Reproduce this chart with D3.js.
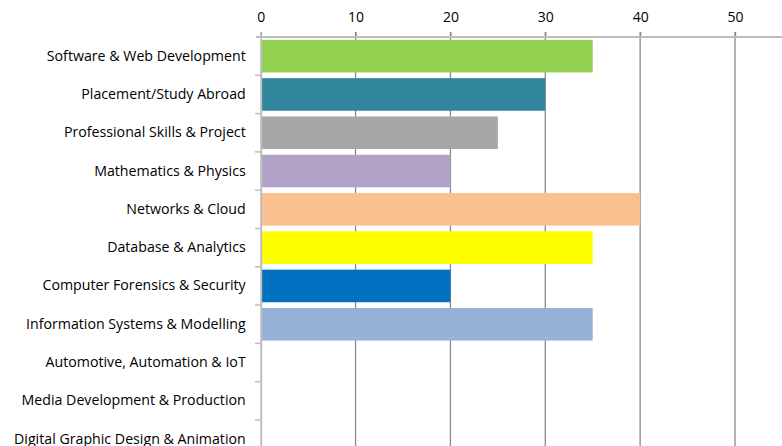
<!DOCTYPE html>
<html><head><meta charset="utf-8">
<script src="https://cdn.jsdelivr.net/npm/d3@7"></script>
<style>body{margin:0;background:#fff;overflow:hidden}</style>
</head><body>
<svg id="c" width="782" height="446"></svg>
<script>
const categories = ["Software & Web Development","Placement/Study Abroad","Professional Skills & Project","Mathematics & Physics","Networks & Cloud","Database & Analytics","Computer Forensics & Security","Information Systems & Modelling","Automotive, Automation & IoT","Media Development & Production","Digital Graphic Design & Animation"];
const values = [35,30,25,20,40,35,20,35,0,0,0];
const colors = ["#92D050","#31859C","#A6A6A6","#B2A2C7","#FAC090","#FFFF00","#0070C0","#95B3D7","#ccc","#ccc","#ccc"];
const tickValues = [0,10,20,30,40,50];

const svg = d3.select("#c");
const font = "Open Sans, sans-serif";
const x = d3.scaleLinear().domain([0,50]).range([260.7,735]);
const y = d3.scaleBand().domain(categories).range([37, 37+38.3*categories.length]).paddingInner(0.15).paddingOuter(0.075);

// gridlines
svg.append("g").selectAll("line").data(tickValues.slice(1)).join("line")
  .attr("x1",d=>x(d)).attr("x2",d=>x(d)).attr("y1",32).attr("y2",446)
  .attr("stroke","#8a8a8a").attr("stroke-width",1.3);

// bars
svg.append("g").selectAll("rect").data(values).join("rect")
  .attr("x",x(0)+0.5).attr("y",(d,i)=>y(categories[i]))
  .attr("width",d=>Math.max(0,x(d)-x(0)-0.5)).attr("height",y.bandwidth())
  .attr("fill",(d,i)=>colors[i]);

// top axis
const xa = svg.append("g").attr("transform","translate(0,37)")
  .call(d3.axisTop(x).tickValues(tickValues).tickSize(5).tickPadding(10));
xa.select(".domain").remove();
xa.selectAll(".tick line").attr("stroke","#8a8a8a").attr("stroke-width",1.3);
xa.selectAll("text").attr("font-family",font).attr("font-size",14).attr("fill","#000");
svg.append("line").attr("x1",256).attr("x2",782).attr("y1",37).attr("y2",37)
  .attr("stroke","#bdbdbd").attr("stroke-width",2);

// left axis
const ya = svg.append("g").attr("transform",`translate(${x(0)},0)`)
  .call(d3.axisLeft(y).tickSize(0).tickPadding(15));
ya.select(".domain").attr("stroke","#bdbdbd").attr("stroke-width",2);
ya.selectAll("text").attr("font-family",font).attr("font-size",14.2).attr("fill","#000");
// category separator ticks
const bounds = categories.map((c,i)=>37+38.3*(i+1));
svg.append("g").selectAll("line").data(bounds).join("line")
  .attr("x1",255).attr("x2",x(0)).attr("y1",d=>d).attr("y2",d=>d)
  .attr("stroke","#bdbdbd").attr("stroke-width",1.5);
</script>
</body></html>
